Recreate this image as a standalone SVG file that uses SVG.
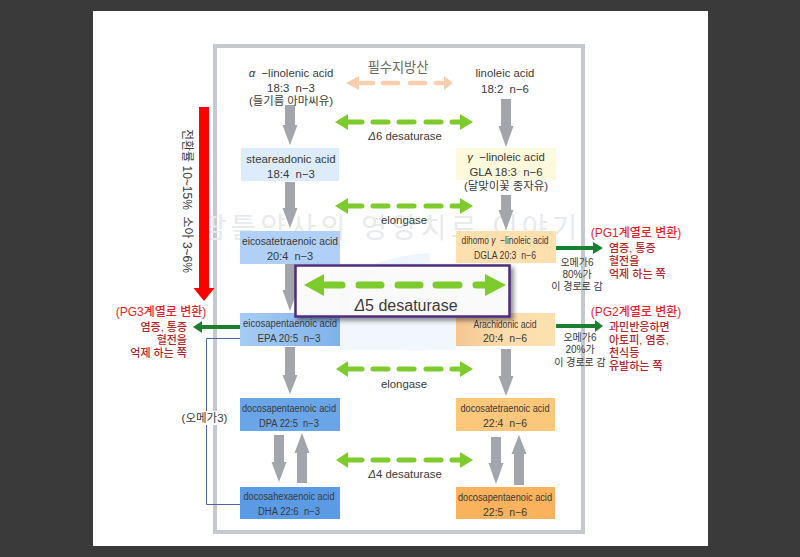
<svg xmlns="http://www.w3.org/2000/svg" width="800" height="557" viewBox="0 0 800 557">
<defs>
<linearGradient id="bo" x1="0" x2="1" y1="0" y2="0"><stop offset="0" stop-color="#f5c690"/><stop offset=".5" stop-color="#fcdcaa"/><stop offset="1" stop-color="#fde1b0"/></linearGradient>
<linearGradient id="bl" x1="0" x2="1" y1="0" y2="0"><stop offset="0" stop-color="#a6ccf4"/><stop offset="1" stop-color="#7fb2ea"/></linearGradient>
<filter id="sh" x="-5%" y="-10%" width="115%" height="130%"><feDropShadow dx="3" dy="3" stdDeviation="2" flood-color="#333" flood-opacity=".55"/></filter>
</defs>
<style>
text{font-family:"Liberation Sans","Noto Sans CJK KR",sans-serif;text-anchor:middle;font-size:11.400px;fill:#3a3a3a;white-space:pre}
.s{font-size:10px}
.r1{fill:#ec1c2a;font-size:12px;font-weight:500}
.r2{fill:#b3262e;font-size:11px;font-weight:500}
.st{text-anchor:start}
.en{text-anchor:end}
.gr{fill:#a2a5ab}
.g{fill:#7ecb2e}
.p{fill:#f8cfae}
.gd{fill:none;stroke:#7ecb2e;stroke-width:5;stroke-linecap:round}
.pd{fill:none;stroke:#f8cfae;stroke-width:4.500;stroke-linecap:round}
.dg{fill:#1a8030}
.wm{font-size:28px;fill:#e8eaec;letter-spacing:4px}
</style>
<rect width="800" height="557" fill="#3a3a3a"/>
<rect x="93" y="11" width="615" height="535" fill="#fff"/>
<g id="frame"><rect x="215" y="46" width="368" height="486" fill="#fff" stroke="#c5c9ce" stroke-width="4"/></g>
<text x="391" y="238" class="wm">팜틀약사의 영양치료 이야기</text>
<path d="M430 258C370 262 335 285 345 320C350 338 385 348 430 345" fill="none" stroke="#eef5fb" stroke-width="10"/>
<rect x="340" y="316" width="116" height="34" fill="#f1f7fc"/>
<g id="connectors">
<path class="gr" d="M285 105H295V125H297.500L290 145L282.500 125H285Z"/>
<path class="gr" d="M285 182H295V208H297.500L290 228L282.500 208H285Z"/>
<path class="gr" d="M285 264H295V290H297.500L290 311L282.500 290H285Z"/>
<path class="gr" d="M285 347H295V375H297.500L290 394L282.500 375H285Z"/>
<path class="gr" d="M274 435H284V462H286.500L279 482L271.500 462H274Z"/>
<path class="gr" d="M297 483H307V453H309.500L302 433L294.500 453H297Z"/>
<path class="gr" d="M501 99H511V126H513.500L506 147L498.500 126H501Z"/>
<path class="gr" d="M501 195H511V210H513.500L506 230L498.500 210H501Z"/>
<path class="gr" d="M501 349H511V376H513.500L506 396L498.500 376H501Z"/>
<path class="gr" d="M491 437H501V463H503.500L496 484L488.500 463H491Z"/>
<path class="gr" d="M514 485H524V454H526.500L519 435L511.500 454H514Z"/>
<path class="pd" d="M361 83H373M383 83H398M410 83H425M436 83H443"/>
<path class="p" d="M346 83L359 76V90ZM444 76L453 83L444 90Z"/>
<path class="gd" d="M348 122H362M373 122H388M399 122H414M426 122H441M452 122H460"/>
<path class="g" d="M335 122L348 114V130ZM460 114L473 122L460 130Z"/>
<path class="gd" d="M348 206H362M373 206H388M399 206H414M426 206H441M452 206H460"/>
<path class="g" d="M335 206L348 198V214ZM460 198L473 206L460 214Z"/>
<path class="gd" d="M348 369H362M373 369H388M399 369H414M426 369H441M452 369H460"/>
<path class="g" d="M336 369L348 361V377ZM460 361L473 369L460 377Z"/>
<path class="gd" d="M348 460H362M373 460H388M399 460H414M426 460H441M452 460H460"/>
<path class="g" d="M336 460L348 452V468ZM460 452L473 460L460 468Z"/>
<path d="M199 107H209V288H214.500L204 301L193.500 288H199Z" fill="#f00"/>
<path class="dg" d="M556 246H593V242L603 248L593 254V250H556Z"/>
<path class="dg" d="M556 324H595V320L603 326L595 332V328H556Z"/>
<path class="dg" d="M240 325H202V321L193 327L202 333V329H240Z"/>
<path d="M241 338.500H206.500V504.500H241" fill="none" stroke="#4a6a9a" stroke-width="1"/>
</g>
<g id="n-ala"><text x="291" y="77"><tspan font-style="italic">α</tspan>  −linolenic acid</text><text x="291" y="92">18:3  n−3</text><text x="291" y="105">(들기름 아마씨유)</text></g>
<g id="n-la"><text x="505" y="77">linoleic acid</text><text x="505" y="93">18:2  n−6</text></g>
<g id="n-sda"><rect x="241" y="148" width="98" height="33" fill="#dcecfb"/><text x="291" y="163">steareadonic acid</text><text x="291" y="178">18:4  n−3</text></g>
<g id="n-gla"><rect x="456" y="148" width="100" height="32" fill="#fdf9dc"/><text x="506" y="161"><tspan font-style="italic">γ</tspan>  −linoleic acid</text><text x="506" y="176">GLA 18:3  n−6</text><text x="506" y="190">(달맞이꽃 종자유)</text></g>
<g id="n-ets"><rect x="240" y="231" width="100" height="33" fill="#b0d0f5"/><text x="290" y="245" class="s" textLength="96" lengthAdjust="spacingAndGlyphs">eicosatetraenoic acid</text><text x="290" y="260" style="font-size:11px">20:4  n−3</text></g>
<g id="n-dgla"><rect x="456" y="231" width="100" height="32" fill="#fde0ad"/><text x="505" y="244" class="s" textLength="87" lengthAdjust="spacingAndGlyphs">dihomo <tspan font-style="italic">γ</tspan>  −linoleic acid</text><text x="505" y="259" class="s" textLength="62" lengthAdjust="spacingAndGlyphs">DGLA 20:3  n−6</text></g>
<g id="n-epa"><rect x="240" y="313" width="100" height="33" fill="url(#bl)"/><text x="290" y="327" class="s" textLength="94" lengthAdjust="spacingAndGlyphs">eicosapentaenoic acid</text><text x="289" y="342" class="s" textLength="63" lengthAdjust="spacingAndGlyphs">EPA 20:5  n−3</text></g>
<g id="n-ara"><rect x="456" y="313" width="99" height="33" fill="url(#bo)"/><text x="505" y="328" class="s" textLength="63" lengthAdjust="spacingAndGlyphs">Arachidonic acid</text><text x="505" y="342" style="font-size:10.500px">20:4  n−6</text></g>
<g id="n-dpa"><rect x="240" y="398" width="100" height="33" fill="#6aa5e8"/><text x="289" y="412" class="s" textLength="94" lengthAdjust="spacingAndGlyphs">docosapentaenoic acid</text><text x="289" y="427" class="s" textLength="60" lengthAdjust="spacingAndGlyphs">DPA 22:5  n−3</text></g>
<g id="n-dta"><rect x="456" y="398" width="99" height="33" fill="#fbc77a"/><text x="505" y="412" class="s" textLength="89" lengthAdjust="spacingAndGlyphs">docosatetraenoic acid</text><text x="505" y="427" style="font-size:10.500px">22:4  n−6</text></g>
<g id="n-dha"><rect x="240" y="487" width="100" height="32" fill="#5b9ae4"/><text x="289" y="500" class="s" textLength="91" lengthAdjust="spacingAndGlyphs">docosahexaenoic acid</text><text x="289" y="515" class="s" textLength="62" lengthAdjust="spacingAndGlyphs">DHA 22:6  n−3</text></g>
<g id="n-dpa6"><rect x="456" y="487" width="99" height="32" fill="#fbb25c"/><text x="505" y="501" class="s" textLength="94" lengthAdjust="spacingAndGlyphs">docosapentaenoic acid</text><text x="505" y="516" style="font-size:10.500px">22:5  n−6</text></g>
<text x="398" y="72" style="font-size:13.200px;fill:#666">필수지방산</text>
<text x="405" y="140"><tspan font-style="italic">Δ</tspan>6 desaturase</text>
<text x="404" y="224">elongase</text>
<text x="404" y="388">elongase</text>
<text x="405" y="478"><tspan font-style="italic">Δ</tspan>4 desaturase</text>
<g id="box-d5"><rect x="295.500" y="265.500" width="214" height="51" fill="#fff" fill-opacity=".9" stroke="#4f2d7f" stroke-width="2.500" filter="url(#sh)"/>
<path d="M326 285H342M359 285H381M398 285H420M436 285H459M476 285H486" fill="none" stroke="#7ecb2e" stroke-width="7" stroke-linecap="round"/>
<path d="M304 285L324 274V296ZM485 274L506 285L485 296Z" fill="#7ecb2e"/>
<text x="406" y="311" style="font-size:16px"><tspan font-style="italic">Δ</tspan>5 desaturase</text></g>
<text transform="translate(183,201) rotate(90)" style="font-size:12px">전환률 10~15%  소아 3~6%</text>
<g id="pg3"><text x="161" y="316" class="r1">(PG3계열로 변환)</text><text x="187" y="331" class="r2 en">염증, 통증</text><text x="187" y="344" class="r2 en">혈전을</text><text x="187" y="357" class="r2 en">억제 하는 쪽</text></g>
<g id="pg1"><text x="636" y="237" class="r1">(PG1계열로 변환)</text><text x="609" y="252" class="r2 st">염증, 통증</text><text x="609" y="265" class="r2 st">혈전을</text><text x="609" y="278" class="r2 st">억제 하는 쪽</text></g>
<g id="pg2"><text x="636" y="316" class="r1">(PG2계열로 변환)</text><text x="609" y="331" class="r2 st">과민반응하면</text><text x="609" y="344" class="r2 st">아토피, 염증,</text><text x="609" y="357" class="r2 st">천식등</text><text x="609" y="370" class="r2 st">유발하는 쪽</text></g>
<g id="note-80"><text x="577" y="266" class="s">오메가6</text><text x="577" y="278" class="s">80%가</text><text x="577" y="290" class="s">이 경로로 감</text></g>
<g id="note-20"><text x="580" y="341" class="s">오메가6</text><text x="580" y="353" class="s">20%가</text><text x="580" y="366" class="s">이 경로로 감</text></g>
<g id="note-o3"><rect x="181" y="411" width="47" height="14" fill="#fff"/><text x="204.500" y="422" style="font-size:11.500px">(오메가3)</text></g>
</svg>
